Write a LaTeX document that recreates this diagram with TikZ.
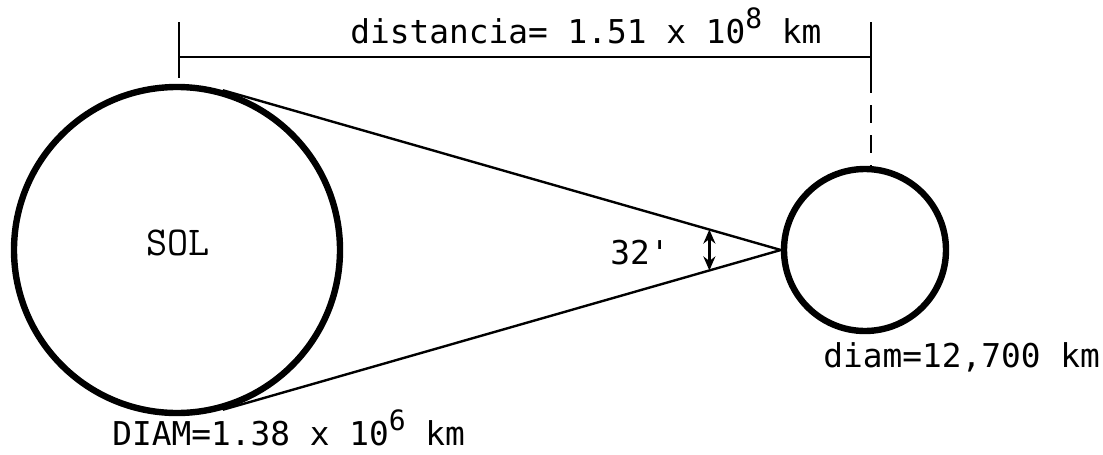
\documentclass[tikz,border=0pt]{standalone}
\usepackage{fontspec}
\newfontfamily\labelfont{DejaVu Sans Mono}
\usepackage{tikz}
\usetikzlibrary{arrows.meta,calc}
\newcommand{\expo}[1]{\raisebox{.45em}{\fontsize{14}{14}\selectfont #1}}

\begin{document}
\begin{tikzpicture}[x=0.5pt, y=-0.5pt, >={Stealth[length=7pt,width=6pt]},
  font=\labelfont\fontsize{16.4}{19}\selectfont,
  body/.style={circle, draw, line width=3.2pt, inner sep=0pt},
  thinline/.style={line width=1.2pt}]
\useasboundingbox (0,0) rectangle (1103,455);
% sol y tierra
\node[body, minimum size=163pt] (sun) at (177,250) {};
\node[body, minimum size=81pt] (earth) at (865,250) {};
\node[font=\ttfamily\fontsize{20.5}{24}\selectfont] (sol) at (178,243) {SOL};
% tangentes
\coordinate (tup) at (tangent cs:node=sun,point={(earth.west)},solution=2);
\coordinate (tlo) at (tangent cs:node=sun,point={(earth.west)},solution=1);
\draw[thinline] (tup) -- (earth.west) -- (tlo);
% angulo
\coordinate (aup) at ($(earth.west)!0.128!(tup)$);
\coordinate (alo) at ($(earth.west)!0.128!(tlo)$);
\draw[<->, thinline] (aup) -- (alo);
\node[anchor=base east, inner sep=0pt] (ang) at (670,264) {32'};
% distancia
\coordinate (dimL) at (179,57);
\coordinate (dimR) at (871,57);
\draw[line width=1pt] (dimL) -- (dimR);
\draw[line width=1pt] ($(dimL)+(0,-35)$) -- ($(dimL)+(0,21)$);
\draw[line width=1pt] ($(dimR)+(0,-35)$) -- ($(dimR)+(0,18)$);
\draw[line width=1pt, dash pattern=on 9pt off 6pt] ($(dimR)+(0,18)$) -- (earth.north -| dimR);
\node[anchor=base west, inner sep=0pt] (dist) at (350,43) {distancia= 1.51 x 10\expo{8} km};
% diametros
\node[anchor=base west, inner sep=0pt] (dsun) at (112,445) {DIAM=1.38 x 10\expo{6} km};
\node[anchor=base west, inner sep=0pt] (dearth) at (823,367) {diam=12,700 km};
\end{tikzpicture}
\end{document}
